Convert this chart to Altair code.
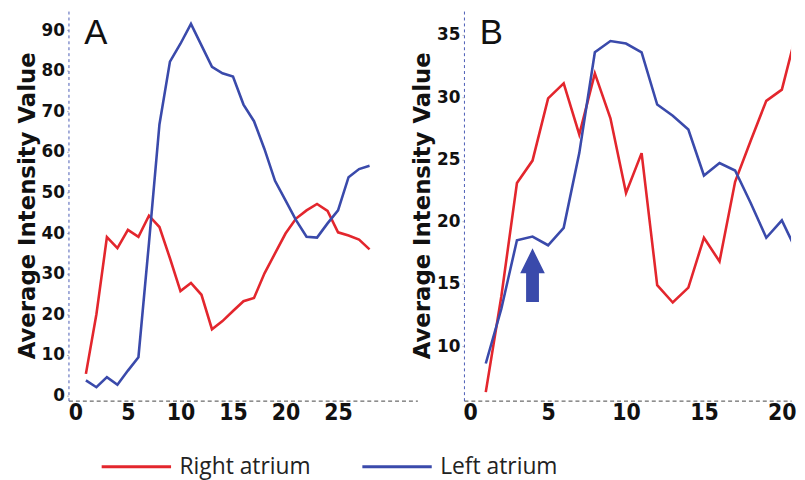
import altair as alt
import pandas as pd

# ---- data ----
series_names = ["Right atrium", "Left atrium"]

x_a = list(range(1, 29))
right_a = [5.3, 20.0, 39.0, 36.3, 40.8, 39.1, 44.3, 41.5, 33.8, 25.7, 27.7, 24.8, 16.3, 18.3,
           20.8, 23.2, 24.0, 30.1, 35.0, 39.9, 43.6, 45.6, 47.2, 45.5, 40.2, 39.4, 38.4, 36.0]
left_a = [3.7, 2.0, 4.5, 2.6, 6.1, 9.4, 37.5, 66.8, 82.3, 86.7, 91.6, 86.3, 81.0, 79.4,
          78.6, 71.7, 67.6, 60.7, 52.9, 48.1, 43.2, 39.1, 38.9, 42.4, 45.6, 53.8, 55.8, 56.6]

x_b = list(range(1, 22))
right_b = [6.3, 14.0, 23.1, 24.9, 29.9, 31.1, 27.0, 31.9, 28.3, 22.3, 25.5, 14.9, 13.5, 14.7,
           18.7, 16.8, 23.2, 26.5, 29.7, 30.6, 35.5]
left_b = [8.6, 13.0, 18.5, 18.8, 18.1, 19.5, 25.5, 33.6, 34.5, 34.3, 33.6, 29.4, 28.5, 27.4,
          23.7, 24.7, 24.1, 21.5, 18.7, 20.1, 17.5]

xticks_a = [0, 5, 10, 15, 20, 25]
yticks_a = [0, 10, 20, 30, 40, 50, 60, 70, 80, 90]
xticks_b = [0, 5, 10, 15, 20]
yticks_b = [10, 15, 20, 25, 30, 35]

arrow_x = [4]
arrow_y = [15.7]

RED = "#e3262d"
BLUE = "#3a4aab"


def long_df(xs, r, l):
    rows = [{"x": x, "value": v, "series": series_names[0]} for x, v in zip(xs, r)]
    rows += [{"x": x, "value": v, "series": series_names[1]} for x, v in zip(xs, l)]
    return pd.DataFrame(rows)


df_a = long_df(x_a, right_a, left_a)
df_b = long_df(x_b, right_b, left_b)

color_scale = alt.Scale(domain=series_names, range=[RED, BLUE])

legend = alt.Legend(
    title=None, orient="none", legendX=32, legendY=424, direction="horizontal",
    symbolType="stroke", symbolSize=4900, symbolStrokeWidth=3,
    labelFont="Open Sans", labelFontSize=23, labelColor="#222222",
    labelOffset=7, columnPadding=45, padding=0, labelLimit=400,
)


def x_axis(vals):
    return alt.Axis(values=vals, title=None, grid=False, ticks=False,
                    domainDash=[4, 3], domainColor="#444444", domainWidth=1,
                    labelFont="Liberation Sans Narrow, DejaVu Sans Condensed, sans-serif",
                    labelFontWeight="bold", labelFontSize=23, labelColor="#111111",
                    labelPadding=1, labelFlush=False)


def y_axis(vals):
    return alt.Axis(values=vals, title="Average Intensity Value", grid=False,
                    ticks=True, tickSize=2, tickColor="#bbbbbb",
                    domainDash=[3, 3], domainColor="#4a5bb5", domainWidth=1,
                    labelFont="DejaVu Sans", labelFontWeight="bold", labelFontSize=17,
                    labelColor="#111111", labelPadding=2, labelFlush=False,
                    titleFont="DejaVu Sans", titleFontWeight="bold", titleFontSize=23,
                    titleColor="#111111", titlePadding=2)


def panel(df, xdom, ydom, xt, yt, w, h, letter, with_arrow=False):
    xs = alt.Scale(domain=xdom, nice=False, zero=False)
    ys = alt.Scale(domain=ydom, nice=False, zero=False)
    lines = alt.Chart(df).mark_line(strokeWidth=2.6, clip=True).encode(
        x=alt.X("x:Q", scale=xs, axis=x_axis(xt)),
        y=alt.Y("value:Q", scale=ys, axis=y_axis(yt)),
        color=alt.Color("series:N", scale=color_scale, legend=legend, sort=series_names),
    )
    label = alt.Chart(pd.DataFrame({"t": [letter]})).mark_text(
        font="Liberation Sans", fontSize=35, align="left", baseline="alphabetic", color="#111111"
    ).encode(text="t:N", x=alt.value(16), y=alt.value(34))
    layers = [lines, label]
    if with_arrow:
        arrow_path = ("M0,-1 L0.46,-0.07 L0.24,-0.07 L0.24,1 L-0.24,1 "
                      "L-0.24,-0.07 L-0.46,-0.07 Z")
        arrow = alt.Chart(pd.DataFrame({"x": arrow_x, "value": arrow_y})).mark_point(
            shape=arrow_path, size=2916, filled=True, color=BLUE, opacity=1, strokeWidth=0
        ).encode(x=alt.X("x:Q", scale=xs), y=alt.Y("value:Q", scale=ys))
        layers.append(arrow)
    return alt.layer(*layers).properties(width=w, height=h)


pa = panel(df_a, [-0.66, 32.55], [-1.3, 95.0], xticks_a, yticks_a, 352, 394, "A")
pb = panel(df_b, [-0.4, 20.59], [5.62, 36.99], xticks_b, yticks_b, 330, 394, "B", with_arrow=True)

chart = alt.hconcat(pa, pb, spacing=47, bounds="flush").properties(
    padding={"left": 8, "top": 0, "right": 0, "bottom": 0}
).configure(background="white", view=alt.ViewConfig(stroke=None))

chart.save("out.html", embed_options={"renderer": "svg", "actions": False})
